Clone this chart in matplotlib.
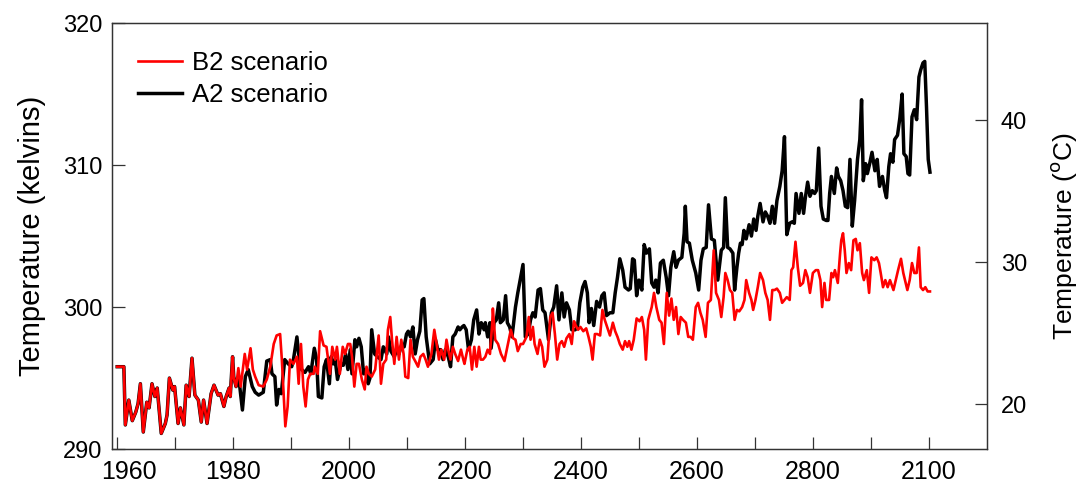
import numpy as np
import matplotlib
matplotlib.use("Agg")
import matplotlib.pyplot as plt
from matplotlib.transforms import ScaledTranslation

plt.rcParams['font.family'] = ['Liberation Sans', 'DejaVu Sans']

# 1960-1980: both scenarios share the same trace
shared_years = [1960.0, 1961.15, 1961.4, 1962.0, 1962.6, 1963.2, 1963.6, 1964.0, 1964.5, 1965.1,
                1965.5, 1966.0, 1966.5, 1966.9, 1967.6, 1968.3, 1968.6, 1969.0, 1969.6, 1969.9,
                1970.5, 1970.9, 1971.5, 1971.9, 1972.4, 1972.9, 1973.4, 1974.0, 1974.5, 1974.9,
                1975.5, 1976.2, 1976.7, 1977.4, 1977.8, 1978.4, 1978.8, 1979.3, 1979.5, 1979.9]
shared_temp = [295.8, 295.8, 291.7, 293.45, 292.0, 292.6, 293.2, 294.6, 291.2, 293.3,
               292.9, 294.6, 293.7, 294.3, 291.1, 291.8, 292.4, 295.0, 294.15, 294.4,
               291.8, 292.9, 291.7, 294.5, 293.7, 296.4, 293.8, 293.45, 291.9, 293.45,
               291.8, 293.9, 294.5, 293.8, 293.9, 293.0, 293.7, 294.3, 293.7, 296.5]

b2_years = [1980.1, 1980.5, 1980.9, 1981.3, 1982.0, 1982.4, 1983.0, 1983.4, 1983.8, 1984.4,
            1985.2, 1985.8, 1986.4, 1987.0, 1987.5, 1988.1, 1988.4, 1989.0, 1989.4, 1989.8,
            1990.4, 1991.0, 1991.3, 1991.7, 1992.1, 1992.5, 1992.9, 1993.3, 1993.9, 1994.1,
            1994.6, 1995.0, 1995.6, 1996.1, 1996.7, 1997.1, 1997.6, 1997.9, 1998.4, 1998.9,
            1999.3, 1999.8, 2000.2, 2000.5, 2000.9, 2001.3, 2001.7, 2002.2, 2002.7, 2003.0,
            2003.4, 2003.9, 2004.5, 2005.1, 2005.5, 2005.9, 2006.4, 2006.7, 2007.1, 2007.4,
            2007.8, 2008.2, 2008.6, 2009.0, 2009.4, 2009.7, 2010.2, 2010.6, 2011.0, 2011.4,
            2011.9, 2012.3, 2012.8, 2013.2, 2013.6, 2014.2, 2014.7, 2015.1, 2015.5, 2015.9,
            2016.4, 2016.8, 2017.1, 2017.5, 2017.9, 2018.3, 2018.8, 2019.3, 2019.7, 2019.9,
            2020.4, 2020.8, 2021.2, 2021.6, 2022.0, 2022.4, 2022.7, 2023.1, 2023.5, 2023.9,
            2024.3, 2024.7, 2024.8, 2025.2, 2025.7, 2026.2, 2026.8, 2027.4, 2027.9, 2028.3,
            2028.7, 2029.1, 2029.6, 2030.0, 2030.6, 2031.0, 2031.3, 2031.7, 2032.0, 2032.5,
            2032.9, 2033.3, 2033.7, 2034.2, 2034.7, 2035.1, 2035.5, 2035.9, 2036.3, 2036.7,
            2037.1, 2037.5, 2038.0, 2038.4, 2038.8, 2039.1, 2039.5, 2039.9, 2040.4, 2040.9,
            2041.3, 2041.7, 2042.0, 2042.4, 2042.8, 2043.3, 2043.7, 2044.1, 2044.5, 2045.0,
            2045.5, 2045.9, 2046.3, 2046.7, 2047.2, 2047.6, 2048.0, 2048.3, 2048.7, 2049.1,
            2049.6, 2050.1, 2050.5, 2050.9, 2051.2, 2051.6, 2052.2, 2052.6, 2053.0, 2053.5,
            2053.9, 2054.3, 2054.8, 2055.2, 2055.6, 2056.0, 2056.4, 2056.8, 2057.2, 2057.6,
            2058.1, 2058.5, 2058.9, 2059.3, 2059.8, 2060.2, 2060.6, 2061.0, 2061.5, 2061.9,
            2062.4, 2062.9, 2063.3, 2063.8, 2064.2, 2064.6, 2064.9, 2065.3, 2065.7, 2066.1,
            2066.5, 2066.9, 2067.3, 2067.8, 2068.2, 2068.5, 2069.0, 2069.4, 2069.7, 2070.1,
            2070.5, 2070.9, 2071.4, 2071.8, 2072.2, 2072.6, 2073.0, 2073.4, 2073.8, 2074.3,
            2074.7, 2075.1, 2075.5, 2076.0, 2076.3, 2076.6, 2077.0, 2077.4, 2077.8, 2078.3,
            2078.7, 2079.1, 2079.5, 2080.0, 2080.5, 2080.9, 2081.3, 2081.6, 2082.0, 2082.3,
            2082.8, 2083.2, 2083.5, 2083.8, 2084.3, 2084.7, 2084.9, 2085.2, 2085.5, 2085.8,
            2086.2, 2086.6, 2087.0, 2087.4, 2087.7, 2088.1, 2088.5, 2088.8, 2089.3, 2089.7,
            2090.1, 2090.6, 2091.0, 2091.4, 2091.7, 2092.1, 2092.5, 2092.9, 2093.3, 2093.9,
            2094.3, 2094.7, 2095.2, 2095.6, 2096.0, 2096.3, 2096.7, 2097.1, 2097.5, 2097.9,
            2098.3, 2098.6, 2099.0, 2099.4, 2099.8, 2100.2]
b2_temp = [295.0, 294.4, 295.7, 294.4, 296.7, 295.6, 297.1, 295.6, 295.1, 294.5,
           294.4, 294.9, 295.8, 297.4, 298.0, 298.1, 296.3, 291.6, 293.0, 296.3,
           296.0, 296.5, 294.6, 297.4, 294.4, 293.0, 294.9, 295.3, 295.3, 295.8,
           295.3, 298.3, 297.3, 297.2, 295.3, 297.2, 296.3, 297.2, 295.3, 297.2,
           296.7, 297.4, 297.4, 296.5, 294.4, 296.0, 296.0, 294.9, 294.2, 295.8,
           295.3, 295.1, 295.6, 298.0, 294.6, 296.0, 296.3, 298.4, 299.3, 297.7,
           296.0, 297.9, 296.3, 297.7, 296.7, 295.1, 295.0, 297.7, 296.5, 296.2,
           295.8, 296.5, 296.7, 296.3, 295.8, 296.7, 298.4, 297.4, 296.3, 297.0,
           296.3, 297.7, 297.0, 296.3, 297.2, 296.7, 296.2, 297.0, 296.3, 296.0,
           297.0, 297.2, 295.6, 297.2, 295.8, 297.2, 296.3, 296.3, 296.5, 297.0,
           296.7, 298.9, 299.9, 297.7, 297.4, 296.7, 296.2, 297.4, 298.4, 297.8,
           297.7, 296.9, 297.4, 297.4, 297.9, 299.3, 297.7, 298.6, 297.4, 296.7,
           297.7, 297.2, 295.8, 296.3, 299.3, 299.6, 298.1, 296.3, 297.4, 297.6,
           297.2, 297.8, 298.1, 297.4, 299.0, 298.7, 298.4, 298.6, 298.3, 298.5,
           297.9, 297.2, 296.3, 298.1, 298.1, 298.0, 299.8, 299.1, 298.6, 298.0,
           298.9, 298.3, 297.9, 297.4, 297.0, 297.6, 297.2, 297.6, 297.0, 297.7,
           299.2, 299.0, 299.3, 298.4, 296.3, 299.1, 300.0, 301.0, 300.0, 299.1,
           298.9, 297.4, 301.0, 299.4, 300.6, 299.1, 300.0, 298.1, 299.3, 299.1,
           298.9, 297.9, 297.9, 297.7, 300.0, 300.3, 299.6, 299.1, 297.9, 300.3,
           300.5, 304.0, 301.0, 300.5, 299.3, 300.7, 302.4, 301.9, 301.2, 301.0,
           299.1, 299.8, 299.7, 300.0, 300.5, 301.9, 301.0, 300.5, 299.8, 300.5,
           301.4, 302.4, 301.9, 301.0, 300.5, 299.1, 301.2, 301.2, 301.3, 301.0,
           300.3, 300.5, 300.7, 300.5, 302.6, 302.8, 304.6, 302.8, 301.5, 301.7,
           302.6, 302.1, 301.0, 302.4, 302.6, 302.6, 301.9, 300.0, 301.7, 300.5,
           300.5, 302.4, 302.1, 302.6, 301.7, 303.8, 304.7, 305.2, 304.0, 302.4,
           303.1, 302.6, 304.7, 304.8, 304.0, 304.5, 302.4, 301.9, 302.6, 301.0,
           303.5, 303.3, 303.5, 303.1, 302.4, 301.4, 301.9, 301.4, 301.9, 301.2,
           301.9, 302.6, 303.4, 302.4, 301.7, 301.2, 301.9, 303.1, 302.4, 302.4,
           304.2, 301.4, 301.2, 301.4, 301.1, 301.1]

a2_years = [1980.1, 1980.5, 1981.0, 1981.6, 1982.1, 1982.6, 1983.3, 1983.8, 1984.4, 1985.2,
            1985.8, 1986.4, 1986.7, 1987.2, 1987.5, 1987.9, 1988.3, 1988.9, 1989.5, 1990.1,
            1990.4, 1991.0, 1991.3, 1991.8, 1992.4, 1993.0, 1993.4, 1994.0, 1994.4, 1994.7,
            1995.3, 1995.7, 1996.1, 1996.6, 1996.9, 1997.3, 1997.6, 1998.0, 1998.6, 1999.0,
            1999.4, 1999.8, 2000.2, 2000.5, 2001.0, 2001.3, 2001.7, 2002.1, 2002.5, 2002.8,
            2003.3, 2003.6, 2003.9, 2004.4, 2004.9, 2005.5, 2005.9, 2006.5, 2006.8, 2007.2,
            2007.8, 2008.2, 2008.6, 2009.1, 2009.5, 2009.9, 2010.2, 2010.6, 2011.0, 2011.4,
            2011.8, 2012.2, 2012.6, 2012.9, 2013.3, 2013.9, 2014.5, 2014.9, 2015.3, 2015.8,
            2016.2, 2016.6, 2017.1, 2017.5, 2017.9, 2018.3, 2018.8, 2019.1, 2019.5, 2019.8,
            2020.2, 2020.6, 2021.1, 2021.5, 2022.0, 2022.4, 2022.8, 2023.3, 2023.5, 2023.9,
            2024.3, 2024.5, 2025.0, 2025.4, 2025.8, 2026.1, 2026.6, 2027.0, 2027.3, 2027.7,
            2028.1, 2028.7, 2029.1, 2029.6, 2030.0, 2030.4, 2030.9, 2031.3, 2031.7, 2032.1,
            2032.6, 2033.0, 2033.4, 2033.8, 2034.4, 2034.9, 2035.3, 2035.8, 2036.2, 2036.7,
            2037.1, 2037.5, 2038.0, 2038.4, 2039.0, 2039.4, 2039.8, 2040.3, 2040.7, 2041.1,
            2041.4, 2041.8, 2042.2, 2042.7, 2043.2, 2043.6, 2044.0, 2044.4, 2045.0, 2045.5,
            2045.9, 2046.3, 2046.7, 2047.2, 2047.6, 2048.2, 2048.5, 2048.9, 2049.2, 2049.6,
            2050.0, 2050.5, 2050.9, 2051.3, 2051.8, 2052.2, 2052.6, 2052.9, 2053.3, 2053.7,
            2054.2, 2054.7, 2055.1, 2055.5, 2056.0, 2056.4, 2056.8, 2057.4, 2057.8, 2058.0,
            2058.3, 2058.7, 2059.2, 2059.8, 2060.3, 2060.7, 2061.1, 2061.6, 2062.0, 2062.5,
            2063.0, 2063.6, 2064.2, 2064.6, 2064.9, 2065.3, 2065.7, 2066.2, 2066.5, 2066.9,
            2067.2, 2067.5, 2067.8, 2068.1, 2068.5, 2069.0, 2069.4, 2069.8, 2070.2, 2070.5,
            2070.9, 2071.4, 2071.8, 2072.2, 2072.6, 2073.0, 2073.4, 2073.8, 2074.3, 2074.7,
            2075.1, 2075.5, 2076.0, 2076.4, 2076.8, 2077.1, 2077.6, 2078.0, 2078.4, 2078.7,
            2079.1, 2079.5, 2079.9, 2080.3, 2080.6, 2081.0, 2081.4, 2081.8, 2082.3, 2082.6,
            2082.9, 2083.2, 2083.7, 2084.1, 2084.4, 2084.8, 2085.2, 2085.6, 2086.0, 2086.4,
            2086.8, 2087.2, 2087.7, 2088.1, 2088.4, 2088.7, 2089.1, 2089.4, 2089.8, 2090.2,
            2090.7, 2091.1, 2091.5, 2092.0, 2092.4, 2092.7, 2093.1, 2093.4, 2093.8, 2094.1,
            2094.6, 2095.0, 2095.4, 2095.7, 2096.1, 2096.4, 2096.7, 2097.1, 2097.5, 2097.9,
            2098.3, 2098.6, 2099.0, 2099.3, 2099.6, 2099.9, 2100.2]
a2_temp = [295.1, 294.4, 294.9, 292.75, 295.1, 295.6, 294.4, 294.0, 293.8, 294.0,
           296.2, 296.3, 295.3, 295.1, 293.1, 294.2, 293.9, 296.3, 296.0, 295.8,
           296.3, 297.9, 296.7, 295.6, 295.4, 295.8, 295.3, 297.1, 296.3, 293.7,
           293.6, 295.8, 296.3, 294.6, 296.5, 296.0, 296.3, 294.9, 296.0, 295.9,
           296.7, 295.6, 297.0, 295.3, 297.7, 297.2, 297.8, 297.2, 295.3, 295.6,
           294.6, 295.0, 298.4, 296.7, 296.5, 296.3, 297.2, 296.7, 297.9, 296.9,
           296.5, 297.0, 296.7, 297.4, 297.2, 298.1, 298.3, 297.9, 298.6, 296.7,
           297.7, 298.3, 300.5, 300.6, 297.9, 296.0, 296.3, 297.7, 297.0, 297.0,
           296.3, 297.0, 296.5, 295.8, 297.9, 298.1, 298.6, 298.4, 298.6, 298.7,
           298.4, 297.0, 297.7, 299.1, 299.8, 298.1, 298.9, 298.4, 298.9, 297.9,
           298.9, 297.1, 298.9, 299.1, 300.3, 298.9, 299.1, 300.8, 298.9, 298.6,
           297.9, 300.0, 301.0, 302.1, 303.0, 297.9, 298.1, 299.1, 299.6, 299.3,
           301.2, 301.3, 299.8, 299.6, 297.7, 299.6, 300.0, 301.5, 299.1, 301.0,
           299.3, 300.3, 299.8, 298.4, 298.4, 298.6, 300.3, 301.4, 301.8, 301.0,
           298.9, 299.9, 298.7, 300.4, 300.0, 300.8, 301.0, 299.4, 299.6, 299.6,
           301.0, 302.1, 303.4, 302.6, 301.4, 301.2, 301.3, 303.4, 303.3, 300.8,
           301.9, 301.2, 304.4, 303.8, 304.1, 301.7, 301.4, 301.9, 301.0, 303.1,
           303.3, 302.1, 300.8, 302.8, 303.9, 302.8, 303.3, 303.5, 305.2, 307.1,
           304.6, 304.5, 303.3, 302.4, 301.2, 303.3, 304.1, 304.2, 307.2, 304.8,
           304.7, 301.9, 304.0, 304.2, 307.7, 304.2, 304.1, 303.8, 301.2, 302.8,
           303.8, 304.5, 304.4, 305.4, 304.8, 305.8, 305.0, 306.2, 305.4, 306.4,
           307.3, 306.0, 306.7, 306.4, 305.9, 307.1, 305.9, 307.5, 308.5, 309.6,
           312.0, 305.1, 305.9, 306.0, 305.9, 308.0, 306.6, 308.0, 306.6, 307.7,
           308.8, 307.8, 308.2, 308.0, 308.2, 311.2, 307.1, 306.2, 306.1, 306.1,
           308.0, 309.2, 308.0, 309.8, 309.2, 308.9, 308.2, 307.1, 307.0, 310.4,
           305.7, 307.5, 310.4, 311.8, 314.6, 308.9, 310.1, 309.4, 310.1, 310.9,
           309.6, 310.4, 308.5, 309.2, 308.2, 307.7, 309.9, 310.8, 310.2, 311.8,
           312.1, 313.3, 315.0, 310.8, 310.6, 309.4, 309.3, 313.4, 313.9, 313.2,
           316.2, 316.7, 317.2, 317.3, 314.1, 310.4, 309.5]

x_tick_pos = list(range(1960, 2101, 10))
x_tick_labels = ['1960', '', '1980', '', '2000', '', '2200', '', '2400', '', '2600', '', '2800', '', '2100']
left_ticks = [290, 300, 310, 320]
right_ticks = [20, 30, 40]

a2_x = shared_years + a2_years
a2_y = shared_temp + a2_temp
b2_x = shared_years + b2_years
b2_y = shared_temp + b2_temp

fig = plt.figure(figsize=(10.82, 4.86), dpi=100)
ax = fig.add_axes([0.1035, 0.076, 0.8085, 0.8765])

ax.plot(a2_x, a2_y, color='black', lw=2.5, label='A2 scenario', zorder=2)
ax.plot(b2_x, b2_y, color='#ff0000', lw=1.9, label='B2 scenario', zorder=3)

ax.set_xlim(1959.1, 2110)
ax.set_ylim(290, 320)
ax.set_xticks(x_tick_pos)
ax.set_xticklabels(x_tick_labels)
ax.set_yticks(left_ticks)
ax.tick_params(axis='both', direction='in', length=9, width=0.9, color='#333333', labelsize=17)
ax.tick_params(axis='x', pad=8, labelsize=18)
ax.tick_params(axis='y', pad=7)
ax.set_ylabel('Temperature (kelvins)', fontsize=21, labelpad=12)
for s in ax.spines.values():
    s.set_color('#333333')
    s.set_linewidth(0.9)

# first year label sits a little right of its tick, clear of the 290 label
first = ax.get_xticklabels()[0]
first.set_transform(first.get_transform() + ScaledTranslation(0.12, 0, fig.dpi_scale_trans))

ax2 = ax.twinx()
ax2.set_ylim(290 - 273.15, 320 - 273.15)
ax2.set_yticks(right_ticks)
ax2.tick_params(axis='y', direction='in', length=9, width=0.9, color='#333333', labelsize=17, pad=10)
ax2.set_ylabel('Temperature ($^{\\rm o}$C)', fontsize=19, labelpad=16)
for s in ax2.spines.values():
    s.set_color('#333333')
    s.set_linewidth(0.9)

handles, labels = ax.get_legend_handles_labels()
ax.legend(handles[::-1], labels[::-1], loc='upper left', frameon=False, fontsize=18.5,
          handlelength=1.7, handletextpad=0.4, labelspacing=0.3,
          borderpad=0, borderaxespad=0, bbox_to_anchor=(0.03, 0.934))

fig.savefig('out.png', dpi=100)
